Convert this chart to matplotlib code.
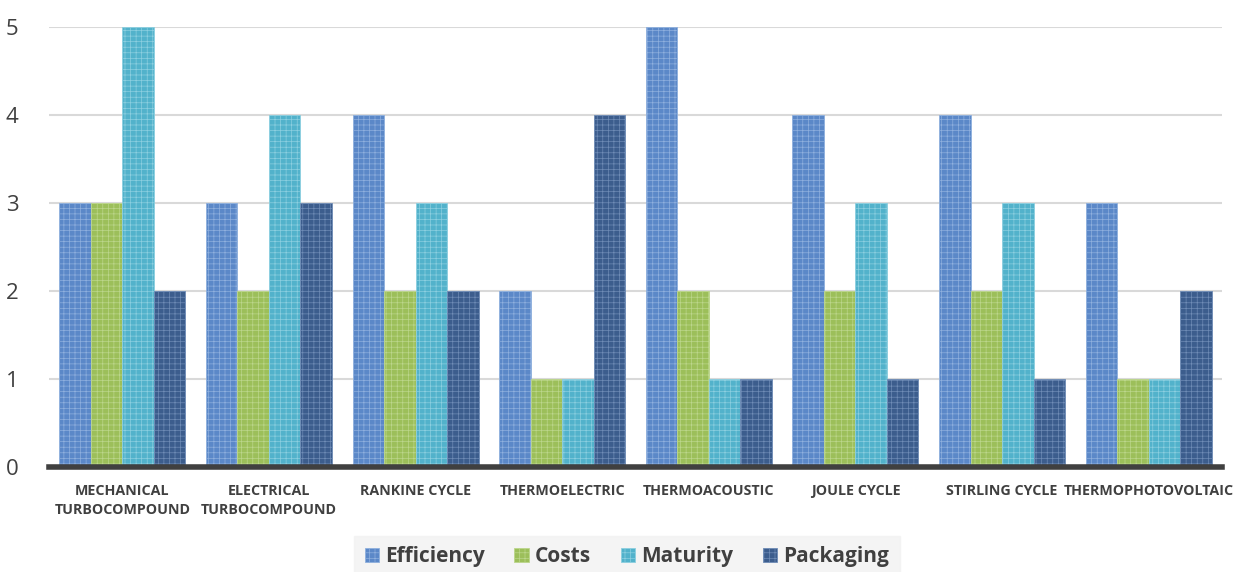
import matplotlib
matplotlib.use("Agg")
import matplotlib.pyplot as plt
import numpy as np

categories = ["MECHANICAL\nTURBOCOMPOUND", "ELECTRICAL\nTURBOCOMPOUND", "RANKINE CYCLE",
              "THERMOELECTRIC", "THERMOACOUSTIC", "JOULE CYCLE", "STIRLING CYCLE",
              "THERMOPHOTOVOLTAIC"]
efficiency = [3, 3, 4, 2, 5, 4, 4, 3]
costs = [3, 2, 2, 1, 2, 2, 2, 1]
maturity = [5, 4, 3, 1, 1, 3, 3, 1]
packaging = [2, 3, 2, 4, 1, 1, 1, 2]
series_names = ["Efficiency", "Costs", "Maturity", "Packaging"]
yticks = [0, 1, 2, 3, 4, 5]

colors = ["#5b88c8", "#9cbf5a", "#52b2cb", "#3c5d8d"]
hatch_colors = ["#8fb0de", "#bcd68c", "#8ccfe0", "#6f8cb6"]

plt.rcParams["font.family"] = ["Open Sans", "DejaVu Sans"]
plt.rcParams["hatch.linewidth"] = 0.5

fig = plt.figure(figsize=(12.39, 5.72), dpi=100)
ax = fig.add_axes([49 / 1239, 1 - 467 / 572, (1222 - 49) / 1239, (467 - 27) / 572])

x = np.arange(len(categories))
width = 0.215
all_series = [efficiency, costs, maturity, packaging]
handles = []
for i, (vals, name) in enumerate(zip(all_series, series_names)):
    offs = (i - 1.5) * width
    b = ax.bar(x + offs, vals, width, color=colors[i], edgecolor=hatch_colors[i],
               linewidth=0.6, hatch="+++", label=name, zorder=3)
    handles.append(b)

ax.set_xlim(-0.5, len(categories) - 0.5)
ax.set_ylim(0, 5)
ax.set_yticks(yticks)
ax.set_yticklabels([str(v) for v in yticks], fontsize=16, color="#404040")
ax.yaxis.grid(True, color="#d9d9d9", linewidth=1.5, zorder=0)
ax.set_axisbelow(True)
ax.tick_params(axis="y", length=0, pad=22)
ax.tick_params(axis="x", length=0, pad=12)
ax.set_xticks(x)
ax.set_xticklabels(categories, fontsize=10.3, fontweight="bold", color="#404040",
                   linespacing=1.45, va="top")
for s in ["top", "right", "left"]:
    ax.spines[s].set_visible(False)
ax.spines["bottom"].set_color("#404040")
ax.spines["bottom"].set_linewidth(4)
ax.spines["bottom"].set_zorder(4)

leg = fig.legend(handles=handles, labels=series_names, loc="lower center",
                 bbox_to_anchor=(0.506, -0.028), ncol=4, frameon=True,
                 prop={"size": 15, "weight": "bold"}, handlelength=0.7,
                 handleheight=0.7, handletextpad=0.3, columnspacing=1.4,
                 borderpad=0.5, fancybox=False)
leg.get_frame().set_facecolor("#f2f2f2")
leg.get_frame().set_edgecolor("#f2f2f2")
for t in leg.get_texts():
    t.set_color("#404040")

fig.savefig("out.png", dpi=100)
